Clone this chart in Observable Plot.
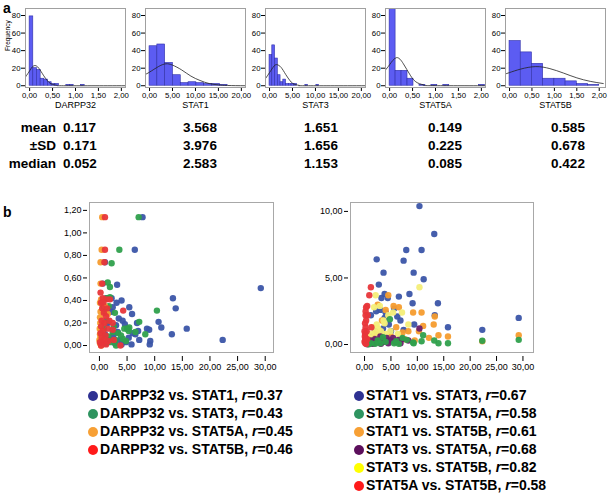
<!DOCTYPE html>
<html>
<head>
<meta charset="utf-8">
<script src="https://cdn.jsdelivr.net/npm/d3@7"></script>
<script src="https://cdn.jsdelivr.net/npm/@observablehq/plot@0.6"></script>
<style>
  html, body { margin: 0; padding: 0; background: #fff; }
  #fig { position: relative; width: 609px; height: 494px; overflow: hidden; font-family: "Liberation Sans", Arial, Helvetica, sans-serif; }
  #fig > * { position: absolute; }
  .lbl { font-weight: bold; font-size: 14px; line-height: 16px; z-index: 5; }
  .st { font-weight: bold; font-size: 13.5px; white-space: nowrap; line-height: 16px; }
  .leg { font-weight: bold; font-size: 14px; white-space: nowrap; line-height: 18px; }
  .dot { display: inline-block; width: 10px; height: 10px; border-radius: 50%; vertical-align: -1px; margin-right: 2px; }
</style>
</head>
<body>
<div id="fig"></div>
<script>
// ---------- Panel a: histograms ----------
const histNames = ["DARPP32", "STAT1", "STAT3", "STAT5A", "STAT5B"];

const darppEdges = [0, 0.08, 0.16, 0.24, 0.32, 0.40, 0.48, 0.56, 0.64, 0.72, 0.80, 0.88, 0.96, 1.04, 1.12, 1.20];
const darppCounts = [79, 20, 18, 8, 7, 4, 2, 2, 0, 0, 1, 1, 0, 0, 1];
const stat1Edges = [0, 1.7, 3.4, 5.1, 6.8, 8.5, 10.2, 11.9, 13.6, 15.3, 17.0];
const stat1Counts = [45, 47, 26, 12, 3, 4, 3, 2, 2, 1];
const stat3Edges = [0, 0.6, 1.2, 1.8, 2.4, 3.0, 3.6, 4.2, 4.8, 5.4, 6.0, 6.6, 7.2, 7.8, 8.4, 9.0, 9.6, 10.2, 10.8];
const stat3Counts = [35, 46, 31, 12, 4, 7, 2, 2, 2, 2, 0, 0, 0, 1, 0, 0, 0, 1];
const stat5aEdges = [0, 0.13, 0.26, 0.39, 0.52, 0.65, 0.78, 0.91, 1.04, 1.17, 1.30, 1.43, 1.56, 1.69, 1.82, 1.95, 2.08];
const stat5aCounts = [90, 17, 17, 8, 0, 1, 0, 1, 0, 1, 0, 0, 0, 0, 0, 1];
const stat5bEdges = [0, 0.25, 0.5, 0.75, 1.0, 1.25, 1.5, 1.75, 2.0];
const stat5bCounts = [51, 38, 25, 8, 8, 5, 2, 1];

// normal curves
const darppCurveX = [-0.09, 0, 0.05, 0.117, 0.2, 0.3, 0.4, 0.5, 0.6, 0.8, 2.09];
const darppCurveY = [10, 17, 21, 23, 20, 12, 5, 1.5, 0.3, 0, 0];
const stat1CurveX = [-0.9, 0, 2, 3.57, 5, 7, 9, 11, 13, 15, 17, 20.9];
const stat1CurveY = [13, 15.5, 22, 25, 23.5, 18, 11, 6, 2.5, 1, 0.3, 0];
const stat3CurveX = [-0.9, 0, 1, 1.65, 2.5, 3.5, 4.5, 5.5, 6.5, 8, 20.9];
const stat3CurveY = [8, 15, 22.5, 24, 21, 13, 5.5, 1.5, 0.3, 0, 0];
const stat5aCurveX = [-0.09, 0, 0.149, 0.3, 0.45, 0.6, 0.75, 0.9, 2.09];
const stat5aCurveY = [18, 24, 32, 25, 12, 3.5, 0.7, 0.1, 0];
const stat5bCurveX = [-0.09, 0, 0.25, 0.585, 0.9, 1.2, 1.5, 1.8, 2.09];
const stat5bCurveY = [13.5, 15, 19, 21.8, 19.5, 14.5, 9, 5, 2.5];

const histTicksSmall = [0, 0.5, 1, 1.5, 2];
const histTicksLarge = [0, 5, 10, 15, 20];
const freqTicks = [0, 20, 40, 60, 80];

// summary table
const statRows = ["mean", "\u00B1SD", "median"];
const statMean = ["0.117", "3.568", "1.651", "0.149", "0.585"];
const statSD = ["0.171", "3.976", "1.656", "0.225", "0.678"];
const statMedian = ["0.052", "2.583", "1.153", "0.085", "0.422"];

// ---------- Panel b: scatter plots ----------
// left: x = STAT value, y = DARPP32
const lBlueX = [7.8,6.4,3.2,29.2,13.3,13.8,5.4,4.0,10.7,11.2,15.8,13.1,22.3,9.2,9.1,8.6,9.0,5.9,6.5,7.2,5.8,4.8,4.2,3.5,2.4,2.1,3.0,3.3,4.6,5.1,3.7,2.5,1.8,1.2,2.8,4.0,5.3,6.0,7.0,3.1,1.5,1.0,0.8,1.2,0.6,1.0,2.2,6.8];
const lBlueY = [1.14,0.85,0.54,0.51,0.42,0.33,0.34,0.40,0.21,0.16,0.15,0.10,0.05,0.04,0.01,0.15,0.14,0.28,0.10,0.05,0.01,0.03,0.22,0.24,0.34,0.30,0.18,0.12,0.19,0.15,0.05,0.09,0.05,0.02,0.02,0.01,0.07,0.11,0.13,0.38,0.20,0.10,0.33,0.42,0.55,0.74,0.42,0.20];
const lGreenX = [7.1,3.6,2.2,1.9,1.5,10.4,7.2,6.5,8.3,5.3,5.0,4.5,4.2,3.4,2.9,2.4,1.4,1.9,1.1,2.6,1.6,1.0,2.0,3.0,0.8,1.3,0.6,2.8,1.7,3.9,5.4,4.8];
const lGreenY = [1.14,0.85,0.73,0.52,0.56,0.31,0.21,0.12,0.10,0.13,0.15,0.15,0.06,0.11,0.05,0.12,0.42,0.43,0.30,0.17,0.08,0.02,0.03,0.00,0.15,0.22,0.36,0.29,0.35,0.09,0.16,0.04];
const lOrangeX = [0.5,0.4,0.2,0.2,0.3,0.1,0.2,0.1,0.15,0.05,0.1,0.0,0.1,0.3,0.6,1.0,1.5,0.8,0.4,0.2];
const lOrangeY = [1.14,0.85,0.74,0.55,0.41,0.38,0.30,0.25,0.20,0.15,0.10,0.05,0.02,0.00,0.20,0.35,0.28,0.05,0.12,0.08];
const lRedX = [1.0,1.0,0.9,0.5,0.6,1.3,4.3,1.9,0.3,0.5,0.8,1.2,0.4,0.9,0.3,1.5,0.6,0.2,1.1,0.4,0.8,1.6,0.1,0.5,1.2,0.3,2.4,2.6,3.8,2.4,0.7,1.4,1.8,0.2];
const lRedY = [1.14,0.85,0.74,0.55,0.42,0.41,0.31,0.41,0.38,0.33,0.29,0.26,0.22,0.20,0.17,0.15,0.13,0.11,0.09,0.07,0.05,0.04,0.03,0.02,0.01,0.00,0.14,0.05,0.00,0.20,0.38,0.33,0.22,0.47];

// right: STAT vs STAT
const rBlueX = [10.4,13.2,7.9,10.8,2.3,7.4,3.6,9.3,11.2,2.7,8.5,3.2,3.8,4.4,6.5,9.1,13.9,13.3,29.2,22.3,15.8,9.4,6.2,5.6,4.0,3.0,1.2,2.2,4.6,6.8,3.5,2.0,1.5,3.3,5.0,7.4,1.0,2.6,4.2,3.8];
const rBlueY = [10.4,8.3,7.1,7.1,6.4,6.3,5.4,5.4,4.9,4.5,3.8,3.5,3.8,3.5,3.6,3.1,3.1,2.2,2.0,1.1,1.3,1.5,2.1,2.7,2.4,2.6,2.2,2.5,1.5,1.8,1.2,1.0,0.6,0.8,1.0,1.1,0.3,0.4,0.3,2.0];
const rGreenX = [29.2,22.3,15.8,14.0,13.2,11.1,10.8,9.2,9.3,8.0,6.5,5.6,4.8,4.0,3.0,2.5,2.0,1.2,0.8,3.5,6.0,7.2];
const rGreenY = [0.35,0.28,0.10,0.10,0.30,0.70,0.25,0.15,0.10,0.35,0.05,0.10,1.9,0.2,0.1,0.3,0.05,0.1,0.02,0.55,0.25,0.5];
const rOrangeX = [29.2,22.3,15.8,14.0,13.3,13.1,11.1,10.8,9.2,10.3,8.3,7.2,4.5,5.5,6.5,2.5,4.0,3.3,6.0,5.0,7.6,2.2,3.0,1.5,1.0,9.5,12.2];
const rOrangeY = [0.7,0.25,0.6,0.7,2.1,1.5,1.4,2.4,2.4,1.0,1.0,0.9,3.7,2.9,2.8,3.0,2.6,1.8,1.3,0.6,0.4,0.9,0.3,0.5,0.2,0.3,0.5];
const rPurpleX = [10.4,8.3,7.1,6.4,5.4,4.9,4.5,3.8,3.5,3.1,2.6,2.2,1.8,1.5,1.2,1.0,0.8,0.5,2.0,3.0,4.2,5.8,6.8];
const rPurpleY = [1.2,0.3,0.4,0.35,0.5,0.3,0.1,0.2,0.3,0.05,0.2,0.15,0.1,0.05,0.3,0.1,0.05,0.02,0.4,0.6,0.5,0.2,0.1];
const rYellowX = [10.4,2.1,2.9,1.8,7.1,5.4,8.3,3.6,4.5,3.8,2.3,2.6,1.5,3.1,2.0,1.2,1.0,3.3,4.0,4.9,0.5,1.6,2.5,6.3,0.8,5.0,3.5];
const rYellowY = [4.3,3.7,2.9,2.8,2.4,2.4,1.5,1.8,2.2,1.6,1.5,1.2,1.3,1.0,0.9,0.8,0.5,0.6,0.8,1.0,0.3,0.2,0.4,0.8,0.1,0.4,0.2];
const rRedX = [1.2,0.9,0.5,0.3,0.2,0.3,0.1,0.2,0.0,0.1,0.05,0.2,0.1,0.0,0.15,0.3,0.5,0.4,1.3,0.6,0.2];
const rRedY = [4.3,3.7,2.9,2.8,2.2,1.8,1.6,1.3,1.0,0.8,0.6,0.5,0.3,0.2,0.1,0.05,0.4,1.0,1.3,2.2,2.5];

const leftLegend = ["DARPP32 vs. STAT1, ", "DARPP32 vs. STAT3, ", "DARPP32 vs. STAT5A, ", "DARPP32 vs. STAT5B, "];
const leftR = ["0.37", "0.43", "0.45", "0.46"];
const leftLegendColors = ["#2e3192", "#2e9460", "#f7a035", "#ff1a1a"];
const rightLegend = ["STAT1 vs. STAT3, ", "STAT1 vs. STAT5A, ", "STAT1 vs. STAT5B, ", "STAT3 vs. STAT5A, ", "STAT3 vs. STAT5B, ", "STAT5A vs. STAT5B, "];
const rightR = ["0.67", "0.58", "0.61", "0.68", "0.82", "0.58"];
const rightLegendColors = ["#2e3192", "#2e9460", "#f7a035", "#5c0f5c", "#ffff00", "#ff1a1a"];

const scatterTicks = [0, 5, 10, 15, 20, 25, 30];
const leftYTicks = [0, 0.2, 0.4, 0.6, 0.8, 1.0, 1.2];
const rightYTicks = [0, 5, 10];

// ---------- drawing ----------
const fig = document.getElementById("fig");
const fmt = d => d3.format(".2f")(d).replace(".", ",");
function place(el, left, top) { el.style.left = left + "px"; el.style.top = top + "px"; fig.appendChild(el); return el; }
function html(tag, cls, text, left, top) { const e = document.createElement(tag); if (cls) e.className = cls; e.innerHTML = text; return place(e, left, top); }

const FONT = "'Liberation Sans', Arial, Helvetica, sans-serif";

function hist(name, edges, counts, cx, cy, xDomain, xTicks, showFreq) {
  const bins = counts.map((c, i) => ({x1: edges[i], x2: edges[i + 1], y: c}));
  const curve = cx.map((x, i) => ({x, y: cy[i]}));
  const marks = [
    Plot.rectY(bins, {x1: "x1", x2: "x2", y: "y", fill: "#5c5cf2", stroke: "#3030a8", strokeWidth: 0.6, clip: true}),
    Plot.line(curve, {x: "x", y: "y", curve: "natural", stroke: "#222", strokeWidth: 0.8, clip: true}),
    Plot.frame({stroke: "#a0a0a0"}),
    Plot.axisX({ticks: xTicks, tickFormat: fmt, tickSize: 3, tickPadding: 1, dy: 1, label: null}),
    Plot.axisY({ticks: freqTicks, tickFormat: d => String(d), tickSize: 4, tickPadding: 1, label: null}),
    Plot.text([name], {frameAnchor: "bottom", dy: 20, fontSize: 9, fill: "#000"})
  ];
  if (showFreq) marks.push(Plot.text(["Frequency"], {frameAnchor: "left", dx: -18, dy: 3, rotate: -90, fontSize: 6.5, fill: "#000"}));
  return Plot.plot({
    width: 130, height: 112, marginLeft: 25, marginRight: 5, marginTop: 8, marginBottom: 25,
    x: {domain: xDomain, label: null}, y: {domain: [-2, 88], label: null},
    style: {fontFamily: FONT, fontSize: "7.8px", color: "#000", background: "transparent", overflow: "visible"},
    marks
  });
}

const histSpecs = [
  [darppEdges, darppCounts, darppCurveX, darppCurveY, [-0.09, 2.09], histTicksSmall],
  [stat1Edges, stat1Counts, stat1CurveX, stat1CurveY, [-0.88, 20.9], histTicksLarge],
  [stat3Edges, stat3Counts, stat3CurveX, stat3CurveY, [-0.88, 20.9], histTicksLarge],
  [stat5aEdges, stat5aCounts, stat5aCurveX, stat5aCurveY, [-0.09, 2.09], histTicksSmall],
  [stat5bEdges, stat5bCounts, stat5bCurveX, stat5bCurveY, [-0.09, 2.14], histTicksSmall]
];
histSpecs.forEach((s, i) => {
  place(hist(histNames[i], s[0], s[1], s[2], s[3], s[4], s[5], i === 0), 120 * i, 0);
});

// labels a, b
html("div", "lbl", "a", 3, 0);
html("div", "lbl", "b", 3, 204);

// stats table
const rowTops = [120, 138, 156];
const valCols = [[statMean, 0], [statSD, 1], [statMedian, 2]];
const colCenters = [80, 200, 321, 445, 568];
statRows.forEach((r, i) => {
  const e = html("div", "st", r, 0, rowTops[i]);
  e.style.width = "56px"; e.style.textAlign = "right";
});
valCols.forEach(([vals, ri]) => {
  vals.forEach((v, j) => {
    const e = html("div", "st", v, colCenters[j], rowTops[ri]);
    if (j === 0) { e.style.left = "63px"; }
    else { e.style.transform = "translateX(-50%)"; }
  });
});

// scatter plots
function pts(xs, ys, key) { return xs.map((x, i) => ({x, y: ys[i], k: key})); }
function scatter(series, xDomain, yDomain, yTicks, w, ml) {
  return Plot.plot({
    width: w, height: 180, marginLeft: ml, marginRight: 7, marginTop: 7, marginBottom: 23,
    x: {domain: xDomain, label: null}, y: {domain: yDomain, label: null},
    style: {fontFamily: FONT, fontSize: "9px", color: "#000", background: "transparent", overflow: "visible"},
    marks: [
      Plot.frame({stroke: "#a8a8a8"}),
      ...series.map(([data, color]) => Plot.dot(data, {x: "x", y: "y", r: 3.2, fill: color, stroke: "none", fillOpacity: 0.95})),
      Plot.axisX({ticks: scatterTicks, tickFormat: fmt, tickSize: 5, tickPadding: 2, dy: 4, label: null}),
      Plot.axisY({ticks: yTicks, tickFormat: fmt, tickSize: 4, tickPadding: 2, dx: -2, label: null})
    ]
  });
}

place(scatter([
  [pts(lBlueX, lBlueY, "b"), "#3b55a8"],
  [pts(lGreenX, lGreenY, "g"), "#2fa04c"],
  [pts(lOrangeX, lOrangeY, "o"), "#f59c2e"],
  [pts(lRedX, lRedY, "r"), "#e8363a"]
], [-1.8, 31.5], [-0.062, 1.27], leftYTicks, 230, 39), 50, 195);

place(scatter([
  [pts(rBlueX, rBlueY, "b"), "#3b55a8"],
  [pts(rOrangeX, rOrangeY, "o"), "#f59c2e"],
  [pts(rYellowX, rYellowY, "y"), "#f4ee78"],
  [pts(rPurpleX, rPurpleY, "p"), "#6b1f6b"],
  [pts(rGreenX, rGreenY, "g"), "#2fa04c"],
  [pts(rRedX, rRedY, "r"), "#e8363a"]
], [-2.66, 32], [-0.6, 10.67], rightYTicks, 240, 50), 300, 195);

// legends
leftLegend.forEach((t, i) => {
  html("div", "leg", `<span class="dot" style="background:${leftLegendColors[i]}"></span>${t}<i>r</i>=${leftR[i]}`, 88, 386 + 18 * i);
});
rightLegend.forEach((t, i) => {
  html("div", "leg", `<span class="dot" style="background:${rightLegendColors[i]}"></span>${t}<i>r</i>=${rightR[i]}`, 354, 386 + 18 * i);
});
</script>
</body>
</html>
